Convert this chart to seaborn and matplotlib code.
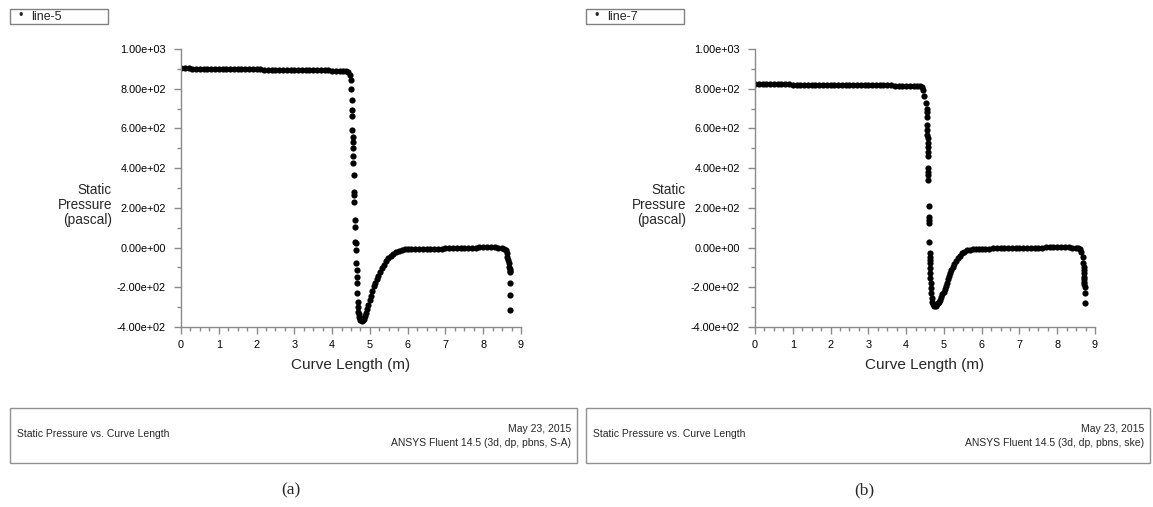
import matplotlib
matplotlib.use("Agg")
import matplotlib.pyplot as plt
from matplotlib.patches import Rectangle
from matplotlib.ticker import MultipleLocator, FuncFormatter
import seaborn as sns

# ---- data ----
# line-5 (S-A model)
x5 = [0.00, 0.10, 0.20, 0.30, 0.40, 0.50, 0.60, 0.70, 0.80, 0.90,
      1.00, 1.10, 1.20, 1.30, 1.40, 1.50, 1.60, 1.70, 1.80, 1.90,
      2.00, 2.10, 2.20, 2.30, 2.40, 2.50, 2.60, 2.70, 2.80, 2.90,
      3.00, 3.10, 3.20, 3.30, 3.40, 3.50, 3.60, 3.70, 3.80, 3.90,
      4.00, 4.10, 4.20, 4.30, 4.38, 4.43, 4.47, 4.49, 4.51,
      4.52, 4.52, 4.53, 4.53, 4.54, 4.54, 4.55, 4.55, 4.56, 4.57,
      4.57, 4.58, 4.59, 4.60, 4.60, 4.61, 4.62, 4.63, 4.64, 4.65,
      4.66, 4.67, 4.67, 4.68, 4.69, 4.69, 4.70,
      4.71, 4.73, 4.75, 4.78, 4.81, 4.84, 4.87, 4.90, 4.93, 4.96,
      4.99, 5.02, 5.06, 5.10, 5.14, 5.18, 5.22, 5.27, 5.32, 5.37,
      5.43, 5.49, 5.55, 5.62, 5.69, 5.77, 5.85, 5.93,
      6.00, 6.10, 6.20, 6.30, 6.40, 6.50, 6.60, 6.70, 6.80, 6.90,
      7.00, 7.10, 7.20, 7.30, 7.40, 7.50, 7.60, 7.70, 7.80, 7.90,
      8.00, 8.10, 8.20, 8.30, 8.40, 8.50,
      8.55, 8.59, 8.62, 8.64, 8.66, 8.68, 8.69, 8.70, 8.70, 8.71,
      8.71, 8.71, 8.72]
p5 = [902, 902, 902, 901, 901, 901, 901, 900, 900, 900,
      899, 899, 899, 899, 898, 898, 898, 898, 897, 897,
      897, 897, 896, 896, 896, 896, 895, 895, 895, 895,
      894, 894, 894, 894, 893, 893, 893, 893, 892, 892,
      891, 891, 890, 890, 889, 886, 868, 842, 800,
      741, 693, 663, 592, 558, 534, 500, 461, 427, 365,
      281, 265, 231, 139, 105, 30, 21, -12, -79, -113,
      -147, -180, -230, -273, -298, -323, -348,
      -335, -355, -366, -370, -367, -358, -345, -328, -308, -287,
      -265, -243, -218, -196, -176, -158, -142, -123, -105, -88,
      -70, -55, -42, -31, -22, -15, -11, -9,
      -8, -8, -7, -7, -6, -6, -6, -5, -5, -5,
      -4, -4, -4, -3, -3, -2, -1, 0, 0, 1,
      1, 1, 1, 1, 0, -2,
      -6, -14, -28, -45, -62, -80, -97, -110, -117, -125,
      -178, -240, -312]

# line-7 (k-epsilon model)
x7 = [0.00, 0.10, 0.20, 0.30, 0.40, 0.50, 0.60, 0.70, 0.80, 0.90,
      1.00, 1.10, 1.20, 1.30, 1.40, 1.50, 1.60, 1.70, 1.80, 1.90,
      2.00, 2.10, 2.20, 2.30, 2.40, 2.50, 2.60, 2.70, 2.80, 2.90,
      3.00, 3.10, 3.20, 3.30, 3.40, 3.50, 3.60, 3.70, 3.80, 3.90,
      4.00, 4.10, 4.20, 4.30, 4.37, 4.41, 4.44, 4.48, 4.52, 4.54,
      4.55, 4.55, 4.56, 4.56, 4.56, 4.57, 4.57, 4.57, 4.58, 4.58,
      4.58, 4.59, 4.59, 4.59, 4.60, 4.60, 4.60, 4.61, 4.61, 4.62,
      4.62, 4.62, 4.63, 4.63, 4.64, 4.64, 4.65, 4.66, 4.67, 4.68, 4.69,
      4.71, 4.73, 4.75, 4.78, 4.81, 4.84, 4.87, 4.90, 4.93, 4.96,
      4.99, 5.02, 5.05, 5.08, 5.11, 5.14, 5.17, 5.20, 5.24, 5.28,
      5.32, 5.37, 5.42, 5.48, 5.54, 5.61, 5.68, 5.76, 5.84, 5.92,
      6.00, 6.10, 6.20, 6.30, 6.40, 6.50, 6.60, 6.70, 6.80, 6.90,
      7.00, 7.10, 7.20, 7.30, 7.40, 7.50, 7.60, 7.70, 7.80, 7.90,
      8.00, 8.10, 8.20, 8.30, 8.40, 8.50,
      8.55, 8.60, 8.64, 8.67, 8.69, 8.70, 8.71, 8.71, 8.72, 8.72,
      8.72, 8.72, 8.73, 8.73, 8.73]
p7 = [824, 824, 824, 823, 823, 823, 823, 822, 822, 822,
      821, 821, 821, 821, 820, 820, 820, 820, 820, 819,
      819, 819, 819, 819, 818, 818, 818, 818, 818, 818,
      817, 817, 817, 817, 817, 817, 817, 816, 816, 816,
      816, 816, 815, 815, 814, 808, 794, 765, 730, 700,
      684, 656, 617, 592, 567, 550, 525, 508, 483, 461,
      399, 382, 365, 340, 209, 155, 139, 122, 30, -29,
      -46, -63, -79, -104, -130, -155, -180, -205, -230, -256, -273,
      -284, -291, -294, -292, -285, -279, -272, -262, -250, -236,
      -222, -207, -192, -176, -160, -144, -128, -112, -96, -81,
      -66, -52, -40, -29, -20, -14, -10, -9, -8, -8,
      -8, -7, -5, -2, -1, -1, 0, 0, 0, 0,
      0, 0, 0, 0, 0, 0, 0, 1, 1, 1,
      1, 1, 1, 1, 0, 0,
      -2, -8, -20, -46, -79, -100, -113, -130, -147, -160,
      -172, -185, -197, -230, -280]

panels = [
    dict(x=x5, y=p5, name="line-5", model="S-A", tag="(a)", left=181),
    dict(x=x7, y=p7, name="line-7", model="ske", tag="(b)", left=755),
]

W, H = 1153, 507
sns.set_style("white")
plt.rcParams["font.family"] = ["Liberation Sans", "DejaVu Sans"]

fig = plt.figure(figsize=(W / 100, H / 100), dpi=100)
grey = "#8a8a8a"


def fx(px):
    return px / W


def fy(py):
    return 1 - py / H


box_x = [(10, 577), (586, 1150)]
legend_x = [(10, 108), (586, 684)]
caption_x = [291, 864]

for i, pan in enumerate(panels):
    L = pan["left"]
    ax = fig.add_axes([fx(L), fy(327), 340 / W, 278 / H])
    sns.scatterplot(x=pan["x"], y=pan["y"], ax=ax, color="black", s=20,
                    linewidth=0, edgecolor=None)
    ax.set_xlim(0, 9)
    ax.set_ylim(-400, 1000)
    ax.xaxis.set_major_locator(MultipleLocator(1))
    ax.xaxis.set_minor_locator(MultipleLocator(0.25))
    ax.yaxis.set_major_locator(MultipleLocator(200))
    ax.yaxis.set_minor_locator(MultipleLocator(100))
    ax.yaxis.set_major_formatter(FuncFormatter(lambda v, _: f"{v:.2e}"))
    ax.xaxis.set_major_formatter(FuncFormatter(lambda v, _: f"{v:g}"))
    for side in ["top", "right"]:
        ax.spines[side].set_visible(False)
    for side in ["left", "bottom"]:
        ax.spines[side].set_color(grey)
        ax.spines[side].set_linewidth(1.0)
    ax.tick_params(which="both", direction="out", color=grey, width=1.0,
                   labelsize=7.8, labelcolor="black", left=True, bottom=True)
    ax.tick_params(which="major", length=5)
    ax.tick_params(which="minor", length=3)
    ax.tick_params(axis="y", pad=6)
    ax.tick_params(axis="x", pad=4)

    # axis titles
    fig.text(fx(L - 69), fy(205), "Static\nPressure\n(pascal)", ha="right",
             va="center", multialignment="right", fontsize=9.8, linespacing=1.12)
    fig.text(fx(L + 170), fy(365), "Curve Length (m)", ha="center",
             va="center", fontsize=11)

    # legend box at the top
    lx0, lx1 = legend_x[i]
    fig.add_artist(Rectangle((fx(lx0), fy(24)), (lx1 - lx0) / W, 15 / H,
                             transform=fig.transFigure, facecolor="white",
                             edgecolor="#808080", linewidth=1.0))
    fig.text(fx(lx0 + 11), fy(16.5), "\u2022", ha="center", va="center",
             fontsize=9)
    fig.text(fx(lx0 + 21), fy(16.5), pan["name"], ha="left", va="center",
             fontsize=9)

    # title block at the bottom
    bx0, bx1 = box_x[i]
    fig.add_artist(Rectangle((fx(bx0), fy(463)), (bx1 - bx0) / W, 55 / H,
                             transform=fig.transFigure, facecolor="white",
                             edgecolor="#909090", linewidth=1.0))
    fig.text(fx(bx0 + 7), fy(434), "Static Pressure vs. Curve Length",
             ha="left", va="center", fontsize=7.5)
    fig.text(fx(bx1 - 6), fy(429), "May 23, 2015", ha="right",
             va="center", fontsize=7.5)
    fig.text(fx(bx1 - 6), fy(443),
             f"ANSYS Fluent 14.5 (3d, dp, pbns, {pan['model']})",
             ha="right", va="center", fontsize=7.5)

    # sub-figure caption
    fig.text(fx(caption_x[i]), fy(490), pan["tag"], ha="center",
             va="center", fontsize=12.5, family=["Liberation Serif", "DejaVu Serif"])

fig.savefig("out.png", dpi=100)
